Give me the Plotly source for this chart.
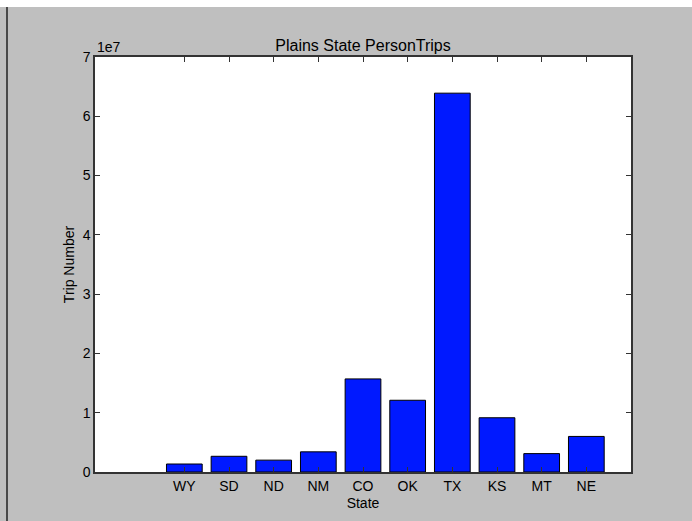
import plotly.graph_objects as go

# Plains states and their person-trip totals
states = ["WY", "SD", "ND", "NM", "CO", "OK", "TX", "KS", "MT", "NE"]
person_trips = [1.35e6, 2.65e6, 2.0e6, 3.4e6, 15.7e6, 12.1e6, 63.9e6, 9.15e6, 3.1e6, 6.0e6]
y_ticks = [0, 1e7, 2e7, 3e7, 4e7, 5e7, 6e7, 7e7]
y_tick_labels = ["0", "1", "2", "3", "4", "5", "6", "7"]

W, H = 692, 521
L, R, T, B = 95, 61, 57, 49
pw, ph = W - L - R, H - T - B

def px_x(p):
    return (p - L) / pw

def px_y(p):
    return (H - B - p) / ph

font = "Liberation Sans, Arial, Helvetica, sans-serif"

fig = go.Figure(
    go.Bar(
        x=states,
        y=person_trips,
        width=0.8,
        marker=dict(color="#0019ff", line=dict(color="black", width=1)),
    )
)

axis_common = dict(
    showline=True,
    linecolor="#333333",
    linewidth=1.5,
    mirror="ticks",
    ticks="inside",
    ticklen=5,
    tickcolor="#333333",
    showgrid=False,
    zeroline=False,
    tickfont=dict(family=font, size=14, color="black"),
)

fig.update_xaxes(
    **axis_common,
    range=[-2, 10],
    title=dict(text="State", font=dict(family=font, size=14, color="black"), standoff=6),
)
fig.update_yaxes(
    **axis_common,
    range=[0, 7e7],
    tickvals=y_ticks,
    ticktext=y_tick_labels,
    title=dict(text="Trip Number", font=dict(family=font, size=14, color="black"), standoff=5),
)

fig.update_layout(
    width=W,
    height=H,
    margin=dict(l=L, r=R, t=T, b=B),
    paper_bgcolor="#bfbfbf",
    plot_bgcolor="white",
    showlegend=False,
    title=dict(
        text="Plains State PersonTrips",
        x=0.5 * (L + W - R) / W,
        xanchor="center",
        y=1 - 45 / H,
        yanchor="middle",
        font=dict(family=font, size=16, color="black"),
    ),
    annotations=[
        dict(
            text="1e7", xref="paper", yref="paper",
            x=0.0, y=1.0, xanchor="left", yanchor="bottom",
            showarrow=False, font=dict(family=font, size=14, color="black"),
        )
    ],
    shapes=[
        # white strip along the top edge of the page
        dict(type="rect", xref="paper", yref="paper",
             x0=px_x(-5), x1=px_x(W + 5), y0=px_y(7), y1=px_y(-5),
             fillcolor="white", line=dict(width=0), layer="below"),
        # dark rule down the left edge
        dict(type="line", xref="paper", yref="paper",
             x0=px_x(7), x1=px_x(7), y0=px_y(7), y1=px_y(H + 5),
             line=dict(color="#222222", width=1.5)),
    ],
)

fig.write_html("out.html")
